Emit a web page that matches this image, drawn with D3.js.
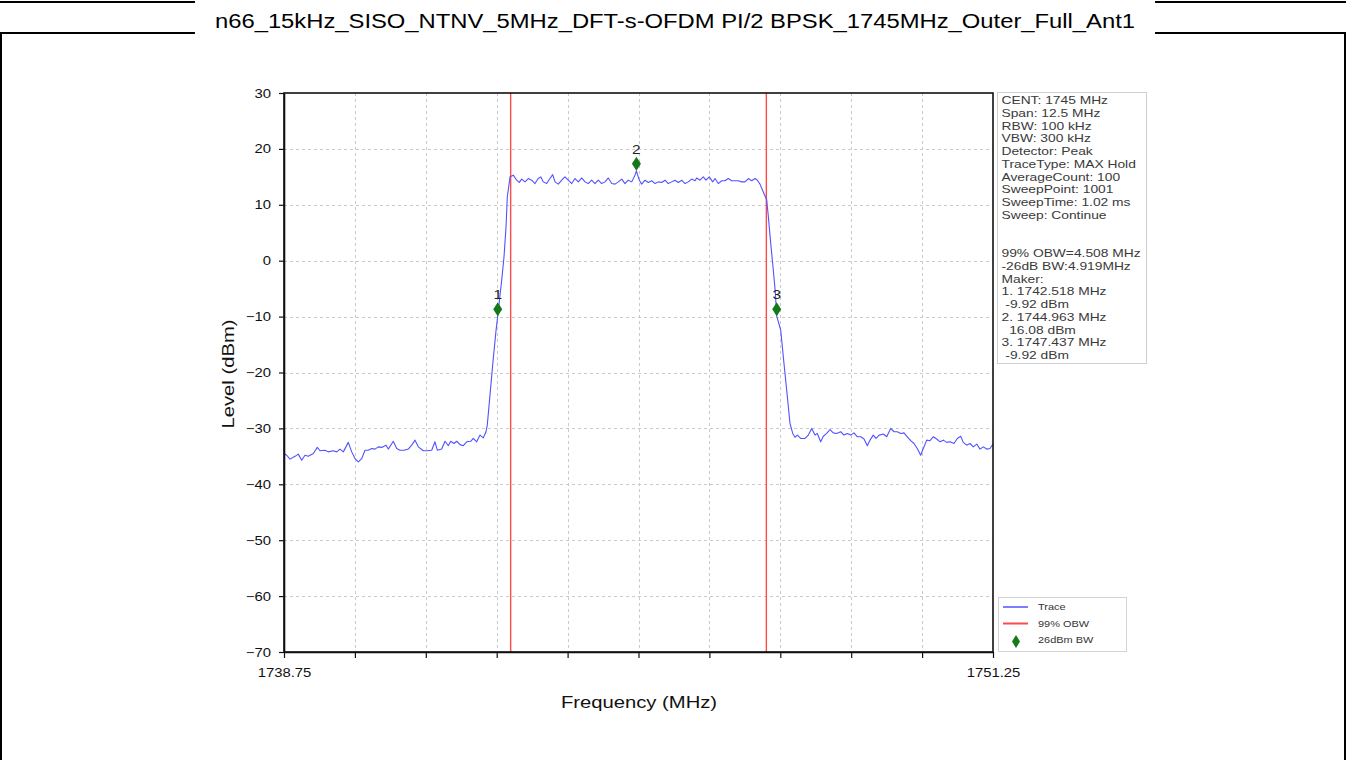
<!DOCTYPE html>
<html>
<head>
<meta charset="utf-8">
<script src="https://cdn.jsdelivr.net/npm/d3@7"></script>
<style>
  html, body { margin: 0; padding: 0; background: #fff; }
  svg { display: block; font-family: Arial, "Liberation Sans", sans-serif; }
</style>
</head>
<body>
<svg id="chart" width="1346" height="760"></svg>
<script>
// ---- Spectrum trace: frequency (MHz) and level (dBm) ----
const freqMHz = [
  1738.750, 1738.798, 1738.856, 1738.944, 1739.002, 1739.062, 1739.120, 1739.178, 1739.267, 1739.337,
  1739.385, 1739.473, 1739.531, 1739.619, 1739.679, 1739.737, 1739.796, 1739.884, 1739.944, 1740.002,
  1740.060, 1740.120, 1740.178, 1740.236, 1740.296, 1740.354, 1740.413, 1740.473, 1740.548, 1740.589,
  1740.677, 1740.737, 1740.795, 1740.866, 1740.941, 1741.001, 1741.060, 1741.118, 1741.206, 1741.266,
  1741.354, 1741.412, 1741.453, 1741.530, 1741.589, 1741.647, 1741.689, 1741.747, 1741.795, 1741.853,
  1741.911, 1741.971, 1742.042, 1742.087, 1742.147, 1742.206, 1742.264, 1742.311, 1742.334, 1742.382,
  1742.435, 1742.488, 1742.518, 1742.588, 1742.629, 1742.664, 1742.687, 1742.735, 1742.793, 1742.853,
  1742.898, 1742.941, 1742.999, 1743.057, 1743.117, 1743.175, 1743.233, 1743.276, 1743.322, 1743.381,
  1743.440, 1743.487, 1743.528, 1743.586, 1743.646, 1743.704, 1743.762, 1743.822, 1743.880, 1743.939,
  1743.999, 1744.057, 1744.115, 1744.175, 1744.233, 1744.291, 1744.351, 1744.409, 1744.468, 1744.528,
  1744.586, 1744.644, 1744.704, 1744.762, 1744.820, 1744.880, 1744.938, 1744.963, 1745.014, 1745.056,
  1745.115, 1745.173, 1745.233, 1745.291, 1745.349, 1745.409, 1745.467, 1745.525, 1745.585, 1745.644,
  1745.702, 1745.762, 1745.820, 1745.878, 1745.938, 1745.996, 1746.026, 1746.084, 1746.142, 1746.190,
  1746.248, 1746.308, 1746.349, 1746.407, 1746.467, 1746.525, 1746.583, 1746.643, 1746.701, 1746.760,
  1746.820, 1746.878, 1746.936, 1746.996, 1747.054, 1747.095, 1747.142, 1747.200, 1747.260, 1747.289,
  1747.331, 1747.377, 1747.412, 1747.437, 1747.507, 1747.565, 1747.624, 1747.671, 1747.719, 1747.759,
  1747.800, 1747.860, 1747.936, 1747.994, 1748.054, 1748.112, 1748.152, 1748.212, 1748.258, 1748.318,
  1748.376, 1748.434, 1748.494, 1748.565, 1748.623, 1748.681, 1748.741, 1748.799, 1748.858, 1748.918,
  1748.976, 1749.034, 1749.081, 1749.140, 1749.187, 1749.245, 1749.316, 1749.376, 1749.446, 1749.505,
  1749.563, 1749.623, 1749.681, 1749.739, 1749.799, 1749.857, 1749.915, 1749.975, 1750.021, 1750.081,
  1750.139, 1750.197, 1750.257, 1750.316, 1750.374, 1750.434, 1750.492, 1750.562, 1750.621, 1750.681,
  1750.726, 1750.786, 1750.845, 1750.903, 1750.963, 1751.021, 1751.079, 1751.139, 1751.197, 1751.250
];
const levelDbm = [
  -34.5, -34.8, -35.5, -35.0, -34.6, -35.7, -34.8, -35.0, -34.5, -33.4,
  -34.0, -33.9, -34.2, -34.0, -34.2, -33.7, -34.2, -32.5, -34.2, -35.4,
  -36.0, -35.4, -33.9, -33.9, -33.6, -33.7, -33.3, -33.4, -33.0, -33.7,
  -32.3, -33.6, -33.9, -33.9, -33.7, -33.0, -32.1, -33.3, -34.0, -34.0,
  -33.9, -32.4, -33.9, -33.7, -32.3, -33.1, -32.3, -32.7, -32.3, -32.9,
  -33.1, -32.4, -32.3, -31.8, -32.4, -31.2, -31.7, -30.6, -29.4, -24.0,
  -18.0, -12.5, -9.92, -3.5, 0.7, 6.0, 11.4, 15.0, 15.3, 14.4,
  14.0, 14.6, 14.1, 14.7, 14.4, 13.8, 14.7, 15.0, 14.1, 13.8,
  14.7, 15.4, 14.1, 13.7, 14.4, 15.0, 14.4, 13.8, 14.7, 14.1,
  14.8, 14.1, 13.8, 14.4, 13.8, 14.4, 13.8, 14.1, 14.8, 13.8,
  13.7, 14.1, 14.6, 13.8, 14.4, 14.1, 15.3, 16.08, 14.4, 13.7,
  14.4, 14.0, 14.3, 13.8, 14.1, 14.0, 14.4, 13.8, 14.1, 14.4,
  14.0, 14.4, 13.8, 14.1, 14.6, 14.3, 14.8, 14.4, 15.0, 14.4,
  15.0, 14.1, 14.7, 13.8, 14.3, 14.3, 14.7, 14.3, 14.3, 14.3,
  14.1, 14.1, 14.7, 14.3, 14.7, 14.4, 13.7, 12.3, 10.9, 7.9,
  3.1, -1.7, -5.6, -9.92, -12.4, -18.4, -24.3, -29.1, -30.9, -31.6,
  -31.2, -31.8, -31.8, -31.2, -30.0, -31.2, -30.9, -32.4, -31.4, -30.9,
  -30.2, -30.8, -30.9, -30.6, -31.2, -30.9, -31.2, -30.8, -31.5, -31.5,
  -31.9, -33.1, -32.1, -31.2, -31.8, -31.2, -31.0, -31.5, -30.0, -30.6,
  -30.6, -30.9, -30.8, -31.5, -32.2, -32.7, -33.6, -34.8, -33.6, -32.1,
  -32.2, -31.5, -31.9, -32.4, -32.1, -32.5, -32.4, -32.7, -31.8, -31.4,
  -32.5, -33.0, -32.7, -33.3, -32.8, -33.7, -33.3, -33.7, -33.6, -32.8
];

// ---- Markers and occupied-bandwidth edges ----
const markerIds = ["1", "2", "3"];
const markerFreq = [1742.518, 1744.963, 1747.437];
const markerLevel = [-9.92, 16.08, -9.92];
const obwEdges = [1742.746, 1747.254];

// ---- Axes ----
const xDomain = [1738.75, 1751.25];
const yDomain = [-70, 30];
const xTickValues = [1738.75, 1740, 1741.25, 1742.5, 1743.75, 1745, 1746.25, 1747.5, 1748.75, 1750, 1751.25];
const xTickLabels = ["1738.75", "", "", "", "", "", "", "", "", "", "1751.25"];
const yTickValues = [30, 20, 10, 0, -10, -20, -30, -40, -50, -60, -70];

// ---- Texts ----
const titleText = "n66_15kHz_SISO_NTNV_5MHz_DFT-s-OFDM PI/2 BPSK_1745MHz_Outer_Full_Ant1";
const xAxisTitle = "Frequency (MHz)";
const yAxisTitle = "Level (dBm)";
const infoLines = [
  "CENT: 1745 MHz", "Span: 12.5 MHz", "RBW: 100 kHz", "VBW: 300 kHz", "Detector: Peak",
  "TraceType: MAX Hold", "AverageCount: 100", "SweepPoint: 1001", "SweepTime: 1.02 ms",
  "Sweep: Continue", "", "",
  "99% OBW=4.508 MHz", "-26dB BW:4.919MHz", "Maker:",
  "1. 1742.518 MHz", " -9.92 dBm", "2. 1744.963 MHz", "  16.08 dBm", "3. 1747.437 MHz", " -9.92 dBm"
];
const legendLabels = ["Trace", "99% OBW", "26dBm BW"];

// ---- Drawing ----
const SX = 1.19;           // horizontal text stretch used by this report style
const W = 1346, H = 760;
const plot = { left: 284, right: 993, top: 93, bottom: 652 };
const colTrace = "#5252ff", colObw = "#ff4a4a", colMarker = "#15781a";

const svg = d3.select("#chart");

// page frame and title bar
const frame = svg.append("g").attr("stroke", "#000").attr("stroke-width", 2).attr("fill", "none");
frame.append("line").attr("x1", 0).attr("x2", W).attr("y1", 2).attr("y2", 2);
frame.append("line").attr("x1", 0).attr("x2", W).attr("y1", 33).attr("y2", 33);
frame.append("line").attr("x1", 1).attr("x2", 1).attr("y1", 33).attr("y2", H);
frame.append("line").attr("x1", W - 1).attr("x2", W - 1).attr("y1", 33).attr("y2", H);

const titleG = svg.append("g");
const titleBg = titleG.append("rect").attr("fill", "#fff");
const title = titleG.append("text")
  .attr("text-anchor", "middle")
  .attr("font-size", 20)
  .attr("fill", "#000")
  .attr("transform", `translate(675,28) scale(${SX},1)`)
  .text(titleText);
const tw = title.node().getComputedTextLength() * SX;
titleBg.attr("x", 675 - tw / 2 - 20).attr("y", 0).attr("width", tw + 40).attr("height", 35);

const x = d3.scaleLinear().domain(xDomain).range([plot.left, plot.right]);
const y = d3.scaleLinear().domain(yDomain).range([plot.bottom, plot.top]);

// grid
const grid = svg.append("g").attr("stroke", "#cacaca").attr("stroke-width", 1).attr("stroke-dasharray", "3,3");
grid.selectAll("line.gx").data(xTickValues.slice(1, -1)).join("line")
  .attr("x1", d => Math.round(x(d)) + 0.5).attr("x2", d => Math.round(x(d)) + 0.5)
  .attr("y1", plot.top).attr("y2", plot.bottom);
grid.selectAll("line.gy").data(yTickValues.slice(1, -1)).join("line")
  .attr("x1", plot.left).attr("x2", plot.right)
  .attr("y1", d => Math.round(y(d)) + 0.5).attr("y2", d => Math.round(y(d)) + 0.5);

// OBW edges
svg.append("g").selectAll("line").data(obwEdges).join("line")
  .attr("x1", d => x(d)).attr("x2", d => x(d))
  .attr("y1", plot.top).attr("y2", plot.bottom)
  .attr("stroke", colObw).attr("stroke-width", 1.4);

// trace
const traceData = freqMHz.map((f, i) => [f, levelDbm[i]]);
svg.append("path")
  .datum(traceData)
  .attr("fill", "none")
  .attr("stroke", colTrace)
  .attr("stroke-width", 1.1)
  .attr("stroke-linejoin", "round")
  .attr("d", d3.line().x(d => x(d[0])).y(d => y(d[1])));

// axes
const yAxis = d3.axisLeft(y).tickValues(yTickValues).tickFormat(d3.format("d")).tickSize(5).tickSizeOuter(0).tickPadding(8);
const xAxis = d3.axisBottom(x).tickValues(xTickValues).tickFormat((d, i) => xTickLabels[i]).tickSize(6).tickSizeOuter(0).tickPadding(10);

const gy = svg.append("g").attr("transform", `translate(${plot.left},0)`).call(yAxis);
const gx = svg.append("g").attr("transform", `translate(0,${plot.bottom})`).call(xAxis);
[gx, gy].forEach(g => {
  g.selectAll("path.domain").attr("stroke", "#111").attr("stroke-width", 1.6);
  g.selectAll(".tick line").attr("stroke", "#111").attr("stroke-width", 1.2);
  g.selectAll("text").attr("font-size", 12.5).attr("fill", "#111")
    .attr("font-family", "Arial, 'Liberation Sans', sans-serif");
});
gy.selectAll("text").each(function () {
  const t = d3.select(this);
  const xv = +t.attr("x");
  t.attr("x", xv / SX).attr("transform", `scale(${SX},1)`);
});
gx.selectAll("text").attr("transform", `scale(${SX},1)`);

// plot frame top/right
svg.append("rect")
  .attr("x", plot.left).attr("y", plot.top)
  .attr("width", plot.right - plot.left).attr("height", plot.bottom - plot.top)
  .attr("fill", "none").attr("stroke", "#111").attr("stroke-width", 1.6);

// axis titles
svg.append("text").attr("text-anchor", "middle").attr("font-size", 17).attr("fill", "#111")
  .attr("transform", `translate(639,708) scale(${SX},1)`).text(xAxisTitle);
svg.append("text").attr("text-anchor", "middle").attr("font-size", 17).attr("fill", "#111")
  .attr("transform", `translate(234,374) rotate(-90) scale(${SX},1)`).text(yAxisTitle);

// markers: diamond sits with its lower tip on the measured level
const diamond = (cx, cy, w, h) => `M${cx},${cy - h} L${cx + w / 2},${cy - h / 2} L${cx},${cy} L${cx - w / 2},${cy - h / 2} Z`;
const mk = svg.append("g");
markerIds.forEach((id, i) => {
  const px = x(markerFreq[i]), py = y(markerLevel[i]);
  mk.append("path").attr("d", diamond(px, py, 9, 14)).attr("fill", colMarker);
  mk.append("text").attr("text-anchor", "middle").attr("font-size", 13).attr("fill", "#222")
    .attr("transform", `translate(${px},${py - 17}) scale(${SX},1)`).text(id);
});

// info panel
const info = svg.append("g");
info.append("rect").attr("x", 997.5).attr("y", 92.5).attr("width", 149).attr("height", 271)
  .attr("fill", "#fff").attr("stroke", "#cfcfcf").attr("stroke-width", 1);
infoLines.forEach((s, i) => {
  info.append("text").attr("font-size", 11.6).attr("fill", "#3a3a3a")
    .style("white-space", "pre")
    .attr("transform", `translate(1001.5,${104 + i * 12.75}) scale(${SX},1)`).text(s);
});

// legend
const lg = svg.append("g");
lg.append("rect").attr("x", 998.5).attr("y", 597.5).attr("width", 128).attr("height", 54)
  .attr("fill", "#fff").attr("stroke", "#d4d4d4").attr("stroke-width", 1);
lg.append("line").attr("x1", 1003).attr("x2", 1028).attr("y1", 607).attr("y2", 607)
  .attr("stroke", colTrace).attr("stroke-width", 1.5);
lg.append("line").attr("x1", 1003).attr("x2", 1028).attr("y1", 623.5).attr("y2", 623.5)
  .attr("stroke", colObw).attr("stroke-width", 2);
lg.append("path").attr("d", diamond(1016, 648, 8, 13)).attr("fill", colMarker);
legendLabels.forEach((s, i) => {
  lg.append("text").attr("font-size", 9.2).attr("fill", "#333")
    .attr("transform", `translate(1038,${610 + i * 16.5}) scale(${SX},1)`).text(s);
});
</script>
</body>
</html>
